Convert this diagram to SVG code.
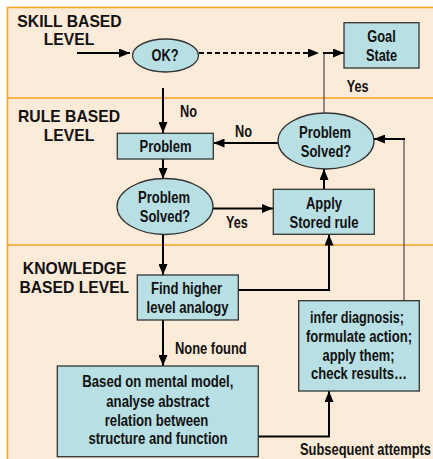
<svg xmlns="http://www.w3.org/2000/svg" width="433" height="459" viewBox="0 0 433 459">
  <defs>
    <marker id="arrow" markerUnits="userSpaceOnUse" markerWidth="11" markerHeight="9" refX="11" refY="4.5" orient="auto">
      <path d="M0,0 L11,4.5 L0,9 z" fill="#000"/>
    </marker>
  </defs>
  <style>
    .band { fill: #fdebda; stroke: #f7a31c; stroke-width: 1.5; }
    .divider { stroke: #f7a31c; stroke-width: 1.5; }
    .node { fill: #b8dfe3; stroke: #333; stroke-width: 1.3; }
    .level { font-family: "Liberation Sans", Arial, sans-serif; font-weight: bold; font-size: 15.7px; fill: #111; text-anchor: middle; }
    .t { font-family: "Liberation Sans", Arial, sans-serif; font-weight: bold; font-size: 16px; fill: #111; text-anchor: middle; }
    .lbl { font-family: "Liberation Sans", Arial, sans-serif; font-weight: bold; font-size: 15.7px; fill: #111; }
    .link { fill: none; stroke: #000; stroke-width: 2; }
    .dash { stroke-dasharray: 5 3; }
    .thin { fill: none; stroke: #555; stroke-width: 1.3; }
  </style>

  <!-- background and level bands -->
  <rect x="0" y="0" width="433" height="459" fill="#fff"/>
  <rect class="band" x="7.5" y="7.5" width="440" height="470"/>
  <line class="divider" x1="7.5" y1="98" x2="433" y2="98"/>
  <line class="divider" x1="7.5" y1="245" x2="433" y2="245"/>

  <!-- level titles -->
  <g id="level-skill">
    <text class="level" x="69.5" y="27">SKILL BASED</text>
    <text class="level" x="69" y="45">LEVEL</text>
  </g>
  <g id="level-rule">
    <text class="level" x="69" y="121.7">RULE BASED</text>
    <text class="level" x="69" y="140.7">LEVEL</text>
  </g>
  <g id="level-knowledge">
    <text class="level" x="74.7" y="274.3">KNOWLEDGE</text>
    <text class="level" x="74.3" y="292.7">BASED LEVEL</text>
  </g>

  <!-- connectors -->
  <g id="connectors">
    <path class="link" d="M77,53 H130" marker-end="url(#arrow)"/>
    <path class="link dash" d="M199,53 H319" marker-end="url(#arrow)"/>
    <path class="thin" d="M324,113 V53"/>
    <path class="link" d="M323,53 H344" marker-end="url(#arrow)"/>
    <path class="link" d="M163,88 V133" marker-end="url(#arrow)"/>
    <path class="link" d="M163,159 V179" marker-end="url(#arrow)"/>
    <path class="link" d="M163,234.5 V275" marker-end="url(#arrow)"/>
    <path class="link" d="M213,208.5 H273" marker-end="url(#arrow)"/>
    <path class="link" d="M324,189 V169" marker-end="url(#arrow)"/>
    <path class="link" d="M278,143 H213.5" marker-end="url(#arrow)"/>
    <path class="thin" d="M404,300.7 V139"/>
    <path class="link" d="M405,139 H374" marker-end="url(#arrow)"/>
    <path class="link" d="M238,290 H329 V234.5" marker-end="url(#arrow)"/>
    <path class="link" d="M163,320 V366" marker-end="url(#arrow)"/>
    <path class="link" d="M258,436.5 H329 V391" marker-end="url(#arrow)"/>
  </g>

  <!-- connector labels (condensed bold lettering) -->
  <g id="labels">
    <text class="lbl" x="346.7" y="91.7" textLength="21.7" lengthAdjust="spacingAndGlyphs">Yes</text>
    <text class="lbl" x="180" y="117" textLength="17" lengthAdjust="spacingAndGlyphs">No</text>
    <text class="lbl" x="235" y="137" textLength="17" lengthAdjust="spacingAndGlyphs">No</text>
    <text class="lbl" x="226" y="228" textLength="21.7" lengthAdjust="spacingAndGlyphs">Yes</text>
    <text class="lbl" x="175" y="353.5" textLength="71.7" lengthAdjust="spacingAndGlyphs">None found</text>
    <text class="lbl" x="300" y="455" textLength="131" lengthAdjust="spacingAndGlyphs">Subsequent attempts</text>
  </g>

  <!-- nodes -->
  <g id="ok">
    <ellipse class="node" cx="165.5" cy="55.5" rx="33" ry="16.5"/>
    <text class="t" x="165" y="61" textLength="27" lengthAdjust="spacingAndGlyphs">OK?</text>
  </g>
  <g id="goal-state">
    <rect class="node" x="344" y="22.7" width="75" height="45.3"/>
    <text class="t" x="381.5" y="42" textLength="28.5" lengthAdjust="spacingAndGlyphs">Goal</text>
    <text class="t" x="381.5" y="61" textLength="31.2" lengthAdjust="spacingAndGlyphs">State</text>
  </g>
  <g id="problem">
    <rect class="node" x="117.3" y="133.3" width="96" height="25.7"/>
    <text class="t" x="165.5" y="152" textLength="52" lengthAdjust="spacingAndGlyphs">Problem</text>
  </g>
  <g id="solved-rule">
    <ellipse class="node" cx="326" cy="141" rx="48" ry="28"/>
    <text class="t" x="325" y="138" textLength="52" lengthAdjust="spacingAndGlyphs">Problem</text>
    <text class="t" x="326" y="157" textLength="50.5" lengthAdjust="spacingAndGlyphs">Solved?</text>
  </g>
  <g id="solved-check">
    <ellipse class="node" cx="165" cy="206.5" rx="48" ry="28"/>
    <text class="t" x="164" y="203" textLength="52" lengthAdjust="spacingAndGlyphs">Problem</text>
    <text class="t" x="165" y="222" textLength="50.5" lengthAdjust="spacingAndGlyphs">Solved?</text>
  </g>
  <g id="apply-rule">
    <rect class="node" x="273.3" y="189.3" width="101" height="45"/>
    <text class="t" x="324" y="208.5" textLength="36" lengthAdjust="spacingAndGlyphs">Apply</text>
    <text class="t" x="324" y="228" textLength="69" lengthAdjust="spacingAndGlyphs">Stored rule</text>
  </g>
  <g id="find-analogy">
    <rect class="node" x="137.3" y="275" width="101" height="45"/>
    <text class="t" x="186.5" y="293.5" textLength="71" lengthAdjust="spacingAndGlyphs">Find higher</text>
    <text class="t" x="187.5" y="312.7" textLength="82" lengthAdjust="spacingAndGlyphs">level analogy</text>
  </g>
  <g id="infer">
    <rect class="node" x="298.7" y="300.7" width="120.6" height="90.3"/>
    <text class="t" x="357" y="322.7" textLength="94" lengthAdjust="spacingAndGlyphs">infer diagnosis;</text>
    <text class="t" x="359" y="341.7" textLength="106" lengthAdjust="spacingAndGlyphs">formulate action;</text>
    <text class="t" x="358.5" y="360.7" textLength="72" lengthAdjust="spacingAndGlyphs">apply them;</text>
    <text class="t" x="359" y="379.3" textLength="96" lengthAdjust="spacingAndGlyphs">check results…</text>
  </g>
  <g id="mental-model">
    <rect class="node" x="57.3" y="366" width="201" height="90.7"/>
    <text class="t" x="157.8" y="386.7" textLength="151" lengthAdjust="spacingAndGlyphs">Based on mental model,</text>
    <text class="t" x="157.8" y="406.7" textLength="103" lengthAdjust="spacingAndGlyphs">analyse abstract</text>
    <text class="t" x="156.5" y="425.7" textLength="103.5" lengthAdjust="spacingAndGlyphs">relation between</text>
    <text class="t" x="158" y="444" textLength="139.2" lengthAdjust="spacingAndGlyphs">structure and function</text>
  </g>
</svg>
